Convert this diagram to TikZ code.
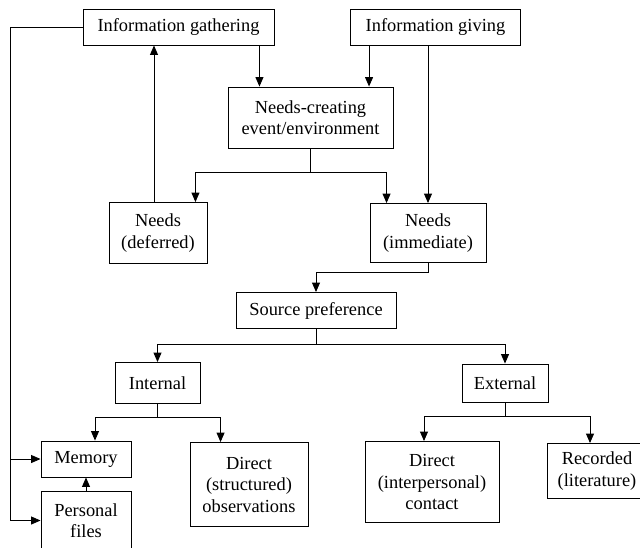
\documentclass[tikz,border=0pt]{standalone}
\usepackage{fontspec}
\setmainfont{Liberation Serif}
\usepackage{tikz}
\usetikzlibrary{arrows.meta, positioning}

\begin{document}
\begin{tikzpicture}[->, >={Triangle[length=9.5pt,width=8pt]}, node distance=60pt and 100pt, on grid, line width=0.9pt]
      \tikzstyle{box}=[draw=black,fill=white,align=center,text=black,inner sep=0pt,
                       font=\fontsize{18.4pt}{21.5pt}\selectfont]
      \useasboundingbox (0,0) rectangle (640pt,-547pt);
      \node[box, minimum width=191pt, minimum height=36pt] (gather) at (178.5pt,-27pt) {Information gathering};
      \node[box, minimum width=170pt, minimum height=36pt] (give) [right=257pt of gather] {Information giving};
      \node[box, minimum width=165pt, minimum height=61pt] (create) [below right=90.5pt and 132pt of gather] {Needs-creating\\event/environment};
      \node[box, minimum width=98pt, minimum height=61pt] (deferred) [below left=115.5pt and 152.5pt of create] {Needs\\(deferred)};
      \node[box, minimum width=116pt, minimum height=59pt] (immediate) [below right=115.5pt and 117.5pt of create] {Needs\\(immediate)};
      \node[box, minimum width=160pt, minimum height=36pt] (source) [below left=77.5pt and 112pt of immediate] {Source preference};
      \node[box, minimum width=85pt, minimum height=41pt] (internal) [below left=72.5pt and 158.5pt of source] {Internal};
      \node[box, minimum width=86pt, minimum height=38pt] (external) [below right=72.5pt and 189pt of source] {External};
      \node[box, minimum width=90pt, minimum height=36pt] (memory) [below left=76pt and 71.5pt of internal] {Memory};
      \node[box, minimum width=90pt, minimum height=58pt] (files) [below=61.5pt of memory] {Personal\\files};
      \node[box, minimum width=118pt, minimum height=84pt] (observations) [below right=101.5pt and 91.5pt of internal] {Direct\\(structured)\\observations};
      \node[box, minimum width=134pt, minimum height=81pt] (contact) [below left=99pt and 73pt of external] {Direct\\(interpersonal)\\contact};
      \node[box, minimum width=100pt, minimum height=55pt] (recorded) [below right=88pt and 92pt of external] {Recorded\\(literature)};
      \coordinate (rail) at (10pt,-27pt);

      % feedback loop down the left side
      \draw (gather.west) -- (rail) |- (files.west);
      \draw (rail |- memory.west) -- (memory.west);
      \draw (files.north) -- (memory.south);

      % top part
      \draw ([xshift=-15pt]gather.south east) -- ([xshift=-15pt]gather.south east |- create.north);
      \draw ([xshift=19pt]give.south west) -- ([xshift=19pt]give.south west |- create.north);
      \draw (give.south -| immediate.north) -- (immediate.north);
      \draw (create.south) -- ++(0,-24pt) -| ([xshift=-12pt]deferred.north east);
      \draw (create.south) -- ++(0,-24pt) -| ([xshift=17pt]immediate.north west);
      \draw ([xshift=-4pt]deferred.north) -- ([xshift=-4pt]deferred.north |- gather.south);

      % sources
      \draw (immediate.south) -- ++(0,-9pt) -| (source.north);
      \draw (source.south) -- ++(0,-15pt) -| (internal.north);
      \draw (source.south) -- ++(0,-15pt) -| (external.north);
      \draw (internal.south) -- ++(0,-13pt) -| ([xshift=9pt]memory.north);
      \draw (internal.south) -- ++(0,-13pt) -| ([xshift=31pt]observations.north west);
      \draw (external.south) -- ++(0,-14pt) -| ([xshift=-8pt]contact.north);
      \draw (external.south) -- ++(0,-14pt) -| ([xshift=-7pt]recorded.north);
\end{tikzpicture}
\end{document}
